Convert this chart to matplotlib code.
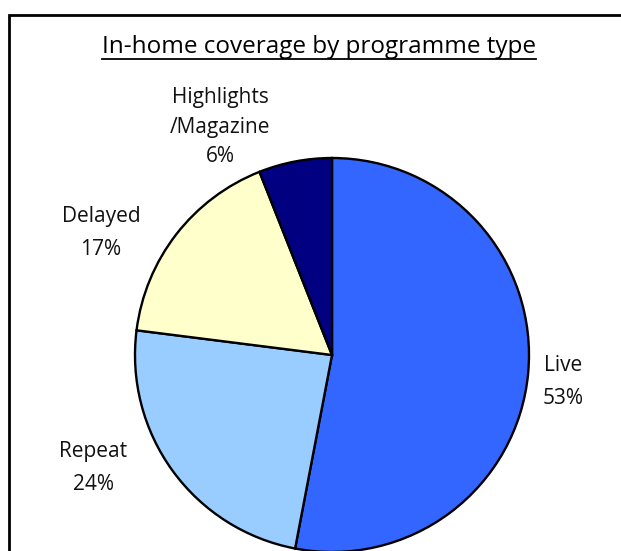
import matplotlib.pyplot as plt
from matplotlib.patches import Rectangle
from matplotlib.lines import Line2D

# In-home coverage share per programme type
types = ["Live", "Repeat", "Delayed", "Highlights\n/Magazine"]
shares = [53, 24, 17, 6]
colours = ["#3366FF", "#99CCFF", "#FFFFCC", "#000080"]

W, H = 621, 551
plt.rcParams['font.family'] = ['Open Sans', 'DejaVu Sans']

fig = plt.figure(figsize=(W / 100, H / 100), dpi=100)
ax = fig.add_axes([0, 0, 1, 1])
ax.set_xlim(0, W)
ax.set_ylim(0, H)
ax.set_aspect('equal')
ax.axis('off')

# chart frame (runs off the right and bottom edges)
ax.add_patch(Rectangle((9, -20), W + 40, H - 15 + 20, fill=False,
                       edgecolor='black', linewidth=2.0, zorder=0))

wedges, _ = ax.pie(shares, colors=colours, startangle=90, counterclock=False,
                   center=(332, H - 355), radius=197,
                   wedgeprops=dict(edgecolor='black', linewidth=1.7))
ax.set_xlim(0, W)
ax.set_ylim(0, H)

# label anchor points (pixels from top-left) and line spacing
label_pos = [(563, 382), (93, 468), (101, 233), (220, 127)]
label_gap = [1.8, 1.8, 1.8, 1.55]
for name, share, (x, y), gap in zip(types, shares, label_pos, label_gap):
    ax.text(x, H - y, f"{name}\n{share}%", ha='center', va='center',
            fontsize=15, linespacing=gap, color='#111111')

title = ax.text(319, H - 47, "In-home coverage by programme type",
                ha='center', va='center', fontsize=17.5, color='black')

# underline the title
fig.canvas.draw()
bb = title.get_window_extent(fig.canvas.get_renderer())
uy = H - 59
ax.add_line(Line2D([bb.x0, bb.x1], [uy, uy], color='black', linewidth=1.3))

fig.savefig("out.png", dpi=100)
